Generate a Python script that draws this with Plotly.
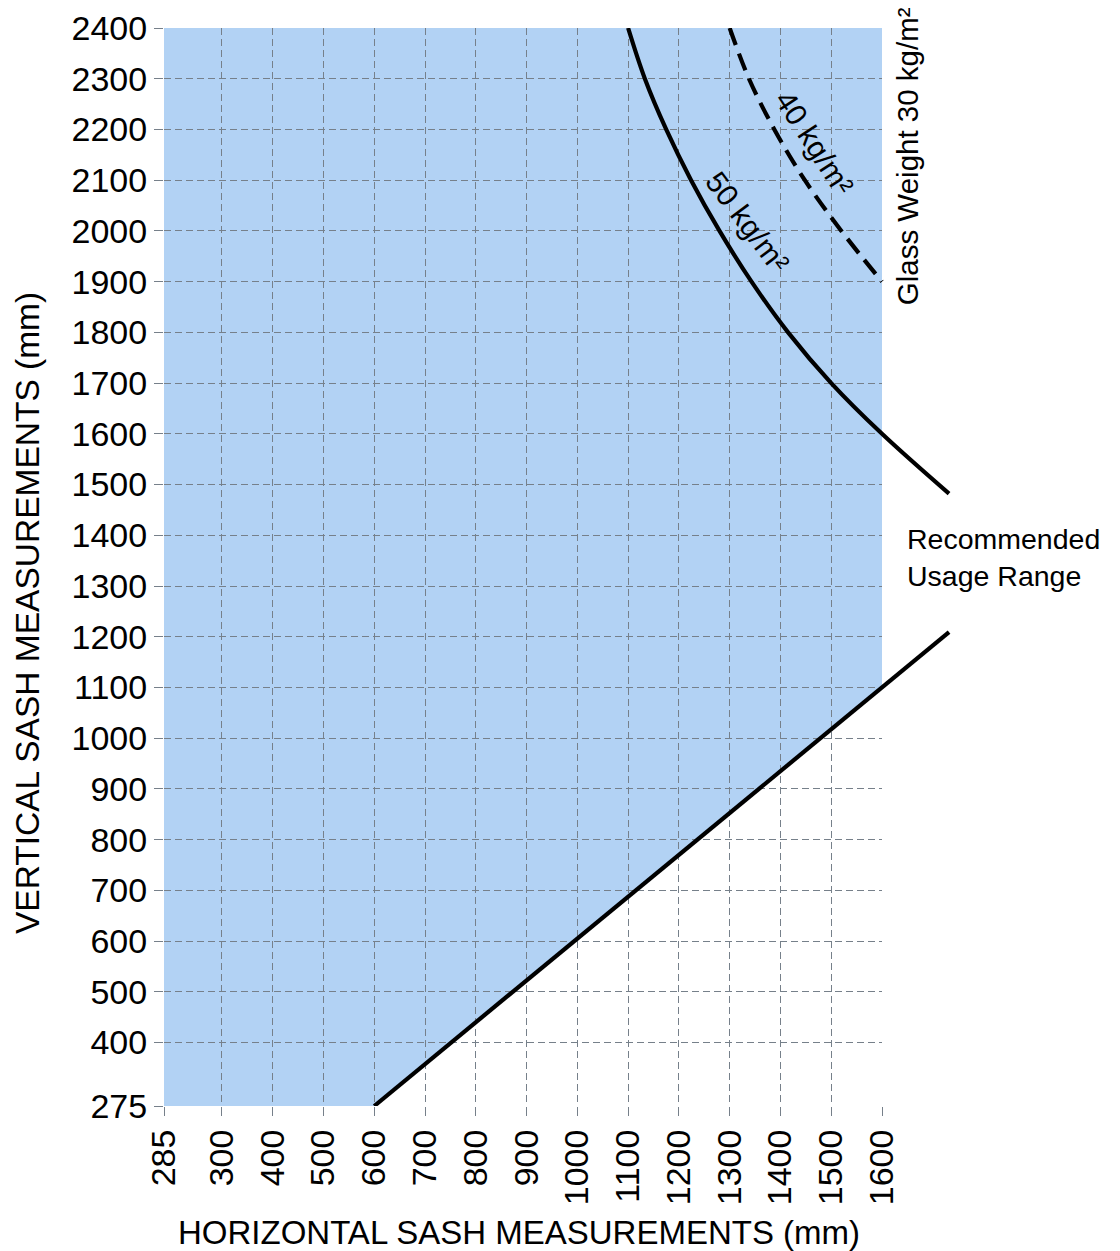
import plotly.graph_objects as go

# ---------------- data ----------------
x_tick_labels = ["285", "300", "400", "500", "600", "700", "800", "900", "1000",
                 "1100", "1200", "1300", "1400", "1500", "1600"]
x_tick_mm = [285, 300, 400, 500, 600, 700, 800, 900, 1000,
             1100, 1200, 1300, 1400, 1500, 1600]
y_ticks = [275, 400, 500, 600, 700, 800, 900, 1000, 1100, 1200, 1300, 1400,
           1500, 1600, 1700, 1800, 1900, 2000, 2100, 2200, 2300, 2400]

# lower limit (minimum sash size line)
lower_w = [600, 1732]
lower_h = [275, 1209]

# 50 kg/m2 limit curve
w50_w = [1100, 1133, 1175, 1224, 1280, 1343, 1415, 1500, 1600, 1732]
w50_h = [2400, 2300, 2200, 2100, 2000, 1900, 1800, 1700, 1600, 1482]

# 40 kg/m2 limit curve
w40_w = [1300, 1338, 1388, 1448, 1520, 1600]
w40_h = [2400, 2300, 2200, 2100, 2000, 1900]

# ---------------- layout constants ----------------
W, H = 1120, 1251
ML, MR, MT, MB = 164, 160, 28, 145
PLOT_W = W - ML - MR
PLOT_H = H - MT - MB
MAIN_FRAC = (882 - ML) / PLOT_W          # main grid ends at 1600 mm
X_LEFT = 186                              # axis position of the compressed "285" column
FONT = "Arial, Liberation Sans, sans-serif"
GRID = "#76808a"
FILL = "#b2d2f4"

def xpos(v):
    return v if v >= 300 else X_LEFT

x_range = [X_LEFT, x_tick_mm[-1]]
y_range = [y_ticks[0], y_ticks[-1]]
x2_max = X_LEFT + (x_range[1] - X_LEFT) / MAIN_FRAC

fig = go.Figure()

# limit lines on an unclipped, identically scaled overlay subplot
line_kw = dict(xaxis="x2", yaxis="y2", mode="lines", hoverinfo="skip", showlegend=False)
fig.add_trace(go.Scatter(x=lower_w, y=lower_h, line=dict(color="black", width=4.2), **line_kw))
fig.add_trace(go.Scatter(x=w50_w, y=w50_h, line=dict(color="black", width=4.2, shape="spline"), **line_kw))
fig.add_trace(go.Scatter(x=w40_w, y=w40_h,
                         line=dict(color="black", width=4.2, shape="spline", dash="18px,9px"), **line_kw))

# shaded recommended region (clipped to main subplot), under the grid
path = (f"M {X_LEFT},{y_range[0]} L {lower_w[0]},{lower_h[0]} L {lower_w[1]},{lower_h[1]} "
        f"L {lower_w[1]},{y_range[1]} L {X_LEFT},{y_range[1]} Z")
fig.add_shape(type="path", path=path, xref="x", yref="y", layer="below",
              fillcolor=FILL, line=dict(width=0))

axis_common = dict(showline=False, zeroline=False, showgrid=True, gridcolor=GRID,
                   gridwidth=1.2, griddash="7px,4px", ticks="outside", ticklen=9,
                   tickcolor=GRID, tickwidth=1.2, automargin=False,
                   tickfont=dict(family=FONT, size=34, color="black"))

fig.update_layout(
    width=W, height=H,
    margin=dict(l=ML, r=MR, t=MT, b=MB, autoexpand=False),
    paper_bgcolor="white", plot_bgcolor="rgba(0,0,0,0)",
    showlegend=False,
    xaxis=dict(domain=[0, MAIN_FRAC], range=x_range, tickmode="array",
               tickvals=[xpos(v) for v in x_tick_mm], ticktext=x_tick_labels,
               tickangle=-90, anchor="y", **axis_common),
    yaxis=dict(domain=[0, 1], range=y_range, tickmode="array",
               tickvals=y_ticks, ticktext=[str(v) for v in y_ticks],
               anchor="x", **axis_common),
    xaxis2=dict(domain=[0, 1], range=[X_LEFT, x2_max], visible=False, anchor="y2",
                automargin=False, showgrid=False),
    yaxis2=dict(domain=[0, 1], range=y_range, visible=False, anchor="x2",
                automargin=False, showgrid=False),
)

ann_font = dict(family=FONT, size=30, color="black")
fig.add_annotation(x=1468, y=2173, xref="x2", yref="y2", text="40 kg/m²",
                   textangle=57, showarrow=False, font=ann_font)
fig.add_annotation(x=1336, y=2017, xref="x2", yref="y2", text="50 kg/m²",
                   textangle=53, showarrow=False, font=ann_font)
fig.add_annotation(x=1649, y=2147, xref="x2", yref="y2", text="Glass Weight 30 kg/m²",
                   textangle=-90, showarrow=False, font=dict(family=FONT, size=29.5, color="black"))
fig.add_annotation(x=1645, y=1356, xref="x2", yref="y2", text="Recommended<br>Usage Range",
                   xanchor="left", yanchor="middle", align="left", showarrow=False,
                   font=dict(family=FONT, size=28.5, color="black"))

# axis titles
fig.add_annotation(x=(519 - ML) / PLOT_W, y=-(1232 - (H - MB)) / PLOT_H,
                   xref="paper", yref="paper", xanchor="center", yanchor="middle",
                   text="HORIZONTAL SASH MEASUREMENTS (mm)",
                   showarrow=False, font=dict(family=FONT, size=33, color="black"))
fig.add_annotation(x=-(ML - 27) / PLOT_W, y=((H - MB) - 613) / PLOT_H,
                   xref="paper", yref="paper", xanchor="center", yanchor="middle",
                   text="VERTICAL SASH MEASUREMENTS (mm)",
                   textangle=-90, showarrow=False, font=dict(family=FONT, size=33.5, color="black"))

fig.write_html("out.html", config={"displayModeBar": False},
               post_script="document.body.style.margin='0px';")
